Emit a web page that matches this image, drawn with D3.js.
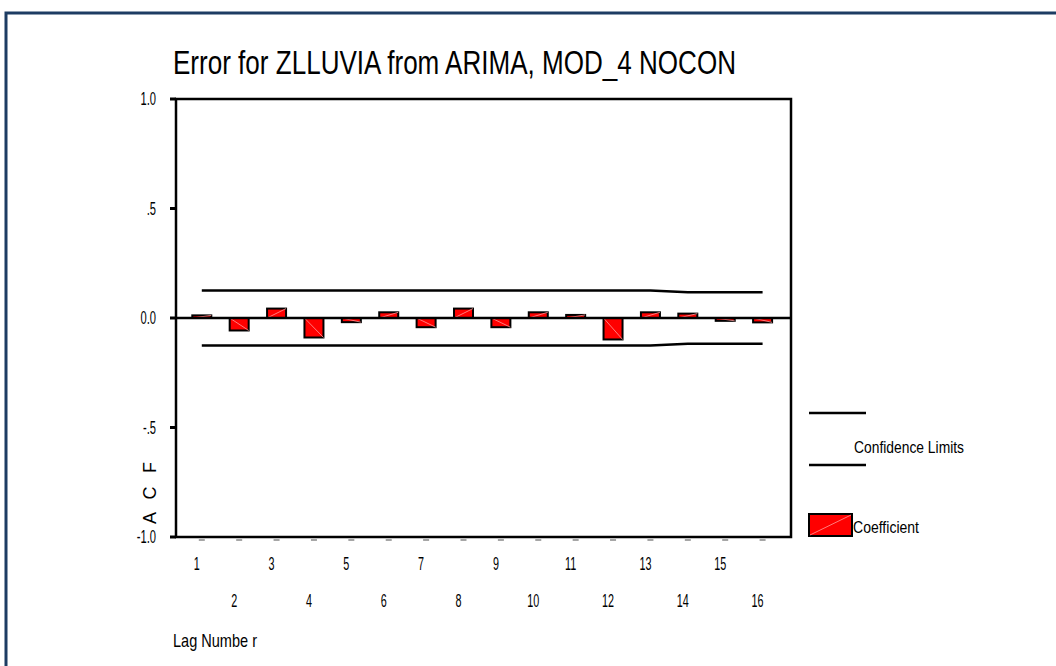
<!DOCTYPE html>
<html lang="en">
<head>
    <meta charset="UTF-8">
    <title>Error for ZLLUVIA from ARIMA, MOD_4 NOCON</title>
    <script src="https://d3js.org/d3.v7.min.js"></script>
    <style>
        body { margin: 0; background: #fff; }
        svg { display: block; font-family: "Liberation Sans", Arial, sans-serif; }
    </style>
</head>
<body>
    <svg width="1056" height="666"></svg>
    <script>
        const lags = [1, 2, 3, 4, 5, 6, 7, 8, 9, 10, 11, 12, 13, 14, 15, 16];
        const acf = [0.012, -0.057, 0.043, -0.089, -0.019, 0.026, -0.042, 0.043,
                     -0.042, 0.026, 0.014, -0.098, 0.026, 0.020, -0.013, -0.020];
        const upperLimit = [0.126, 0.126, 0.126, 0.126, 0.126, 0.126, 0.126, 0.126,
                            0.126, 0.126, 0.126, 0.126, 0.126, 0.118, 0.118, 0.118];
        const lowerLimit = upperLimit.map(v => -v);
        const yTicks = [1, 0.5, 0, -0.5, -1];
        const yTickLabels = ['1.0', '.5', '0.0', '-.5', '-1.0'];

        const svg = d3.select('svg');
        const plot = { left: 176, right: 791, top: 99, bottom: 537 };

        // squeeze text horizontally, the original uses a tall narrow face
        function condense(sel, factor) {
            sel.each(function () {
                const w = this.getComputedTextLength();
                d3.select(this).attr('textLength', w * factor).attr('lengthAdjust', 'spacingAndGlyphs');
            });
        }

        // outer frame
        svg.append('rect')
            .attr('x', 6).attr('y', 13).attr('width', 1100).attr('height', 700)
            .attr('fill', 'none').attr('stroke', '#1d3c63').attr('stroke-width', 3);

        const x = d3.scaleLinear().domain([0.31, 16.76]).range([plot.left, plot.right]);
        const y = d3.scaleLinear().domain([-1, 1]).range([plot.bottom, plot.top]);

        // title
        svg.append('text')
            .attr('x', 173).attr('y', 74)
            .attr('font-size', 34)
            .attr('textLength', 563).attr('lengthAdjust', 'spacingAndGlyphs')
            .text('Error for ZLLUVIA from ARIMA, MOD_4 NOCON');

        // y ticks and labels
        svg.append('g').selectAll('line')
            .data(yTicks).enter().append('line')
            .attr('x1', plot.left - 6).attr('x2', plot.left)
            .attr('y1', d => y(d)).attr('y2', d => y(d))
            .attr('stroke', '#000').attr('stroke-width', 3);

        svg.append('g').selectAll('text')
            .data(yTicks).enter().append('text')
            .attr('x', 156).attr('y', d => y(d)).attr('dy', '0.36em')
            .attr('text-anchor', 'end').attr('font-size', 18)
            .text((d, i) => yTickLabels[i])
            .call(condense, 0.62);

        // x ticks (small grey dashes under the axis) and staggered labels
        svg.append('g').selectAll('line')
            .data(lags).enter().append('line')
            .attr('x1', d => x(d) - 3).attr('x2', d => x(d) + 3)
            .attr('y1', plot.bottom + 3).attr('y2', plot.bottom + 3)
            .attr('stroke', '#888').attr('stroke-width', 1.5);

        svg.append('g').selectAll('text')
            .data(lags).enter().append('text')
            .attr('x', d => x(d) - 5)
            .attr('y', d => d % 2 === 1 ? 570 : 607)
            .attr('text-anchor', 'middle').attr('font-size', 18)
            .text(d => d)
            .call(condense, 0.6);

        // confidence limits
        const line = d3.line().x((d, i) => x(lags[i])).y(d => y(d));
        [upperLimit, lowerLimit].forEach(lim => {
            svg.append('path')
                .attr('d', line(lim))
                .attr('fill', 'none').attr('stroke', '#000').attr('stroke-width', 2.5);
        });

        // coefficient bars
        const barW = 19;
        const bars = svg.append('g').selectAll('g')
            .data(acf).enter().append('g');
        bars.append('rect')
            .attr('x', (d, i) => x(lags[i]) - barW / 2)
            .attr('y', d => y(Math.max(d, 0)))
            .attr('width', barW)
            .attr('height', d => Math.abs(y(d) - y(0)))
            .attr('fill', '#ff0000').attr('stroke', '#000').attr('stroke-width', 2);
        bars.append('line')
            .attr('x1', (d, i) => x(lags[i]) - barW / 2)
            .attr('x2', (d, i) => x(lags[i]) + barW / 2)
            .attr('y1', y(0)).attr('y2', d => y(d))
            .attr('stroke', '#ff9a9a').attr('stroke-width', 0.8);

        // zero line
        svg.append('line')
            .attr('x1', plot.left).attr('x2', plot.right)
            .attr('y1', y(0)).attr('y2', y(0))
            .attr('stroke', '#000').attr('stroke-width', 2.5);

        // plot frame
        svg.append('rect')
            .attr('x', plot.left).attr('y', plot.top)
            .attr('width', plot.right - plot.left).attr('height', plot.bottom - plot.top)
            .attr('fill', 'none').attr('stroke', '#000').attr('stroke-width', 2.5);

        // axis titles
        svg.append('text')
            .attr('transform', 'translate(156,493) rotate(-90)')
            .attr('text-anchor', 'middle').attr('font-size', 18)
            .attr('textLength', 62).attr('lengthAdjust', 'spacing')
            .text('A C F');

        svg.append('text')
            .attr('x', 173).attr('y', 647)
            .attr('font-size', 19)
            .attr('textLength', 84).attr('lengthAdjust', 'spacingAndGlyphs')
            .text('Lag Numbe r');

        // legend
        const legend = svg.append('g');
        [413, 465].forEach(ly => {
            legend.append('line')
                .attr('x1', 809).attr('x2', 866).attr('y1', ly).attr('y2', ly)
                .attr('stroke', '#000').attr('stroke-width', 2.5);
        });
        legend.append('text')
            .attr('x', 854).attr('y', 453).attr('font-size', 17)
            .attr('textLength', 110).attr('lengthAdjust', 'spacingAndGlyphs')
            .text('Confidence Limits');
        legend.append('rect')
            .attr('x', 809).attr('y', 514).attr('width', 43).attr('height', 22)
            .attr('fill', '#ff0000').attr('stroke', '#000').attr('stroke-width', 2);
        legend.append('line')
            .attr('x1', 810).attr('y1', 535).attr('x2', 851).attr('y2', 515)
            .attr('stroke', '#ff9a9a').attr('stroke-width', 0.8);
        legend.append('text')
            .attr('x', 853).attr('y', 533).attr('font-size', 17)
            .attr('textLength', 66).attr('lengthAdjust', 'spacingAndGlyphs')
            .text('Coefficient');
    </script>
</body>
</html>
